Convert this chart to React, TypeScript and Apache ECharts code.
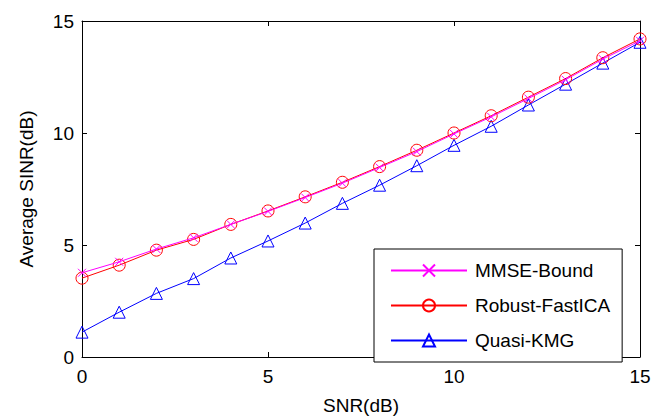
import React, { useEffect, useRef } from "react";
import * as echarts from "echarts";

const snr = [0, 1, 2, 3, 4, 5, 6, 7, 8, 9, 10, 11, 12, 13, 14, 15];
const mmseBound = [3.76, 4.25, 4.82, 5.32, 5.92, 6.5, 7.12, 7.76, 8.46, 9.17, 9.96, 10.72, 11.54, 12.38, 13.3, 14.12];
const robustFastICA = [3.52, 4.1, 4.77, 5.25, 5.92, 6.52, 7.15, 7.8, 8.5, 9.23, 10.0, 10.77, 11.6, 12.43, 13.36, 14.2];
const quasiKMG = [1.11, 2.0, 2.84, 3.5, 4.42, 5.18, 5.98, 6.86, 7.67, 8.54, 9.45, 10.3, 11.25, 12.18, 13.12, 14.05];
const xTicks = [0, 5, 10, 15];
const yTicks = [0, 5, 10, 15];

const FONT = "Liberation Sans, Arial, Helvetica, sans-serif";

export default function App() {
  const ref = useRef<HTMLDivElement>(null);
  useEffect(() => {
    if (!ref.current) return;
    const chart = echarts.init(ref.current, undefined, { renderer: "svg" });
    const pair = (ys: number[]) => snr.map((x, i) => [x, ys[i]]);
    const axisCommon = {
      type: "value",
      min: 0,
      max: 15,
      interval: 5,
      splitLine: { show: false },
      axisLine: { show: true, onZero: false, lineStyle: { color: "#000", width: 1 } },
      axisTick: { show: true, inside: true, length: 5, lineStyle: { color: "#000" } },
    };
    chart.setOption({
      animation: false,
      backgroundColor: "#fff",
      textStyle: { fontFamily: FONT },
      grid: { left: 82, right: 24, top: 21, bottom: 57 },
      xAxis: [
        {
          ...axisCommon,
          position: "bottom",
          name: "SNR(dB)",
          nameLocation: "middle",
          nameGap: 39,
          nameTextStyle: { color: "#000", fontSize: 19, fontFamily: FONT },
          axisLabel: {
            color: "#000",
            fontSize: 19,
            fontFamily: FONT,
            margin: 10,
            formatter: (v: number) => (xTicks.includes(v) ? String(v) : ""),
          },
        },
        {
          ...axisCommon,
          position: "top",
          axisLabel: { show: false },
        },
      ],
      yAxis: [
        {
          ...axisCommon,
          position: "left",
          name: "Average SINR(dB)",
          nameLocation: "middle",
          nameGap: 46,
          nameTextStyle: { color: "#000", fontSize: 19, fontFamily: FONT },
          axisLabel: {
            color: "#000",
            fontSize: 19,
            fontFamily: FONT,
            margin: 8,
            formatter: (v: number) => (yTicks.includes(v) ? String(v) : ""),
          },
        },
        {
          ...axisCommon,
          position: "right",
          axisLabel: { show: false },
        },
      ],
      legend: {
        show: true,
        orient: "vertical",
        left: 374,
        top: 249,
        backgroundColor: "#fff",
        borderColor: "#000",
        borderWidth: 1,
        borderRadius: 0,
        padding: [12, 12, 12, 16],
        itemWidth: 76,
        itemHeight: 15,
        itemGap: 16,
        textStyle: { color: "#000", fontSize: 19, fontFamily: FONT, padding: [0, 0, 0, 3] },
        data: ["MMSE-Bound", "Robust-FastICA", "Quasi-KMG"],
      },
      series: [
        {
          name: "MMSE-Bound",
          type: "line",
          data: pair(mmseBound),
          symbol: "path://M0,0L10,10M10,0L0,10",
          symbolSize: 8,
          lineStyle: { color: "#ff00ff", width: 1 },
          itemStyle: { color: "none", borderColor: "#ff00ff", borderWidth: 1 },
          z: 3,
        },
        {
          name: "Robust-FastICA",
          type: "line",
          data: pair(robustFastICA),
          symbol: "circle",
          symbolSize: 12,
          lineStyle: { color: "#ff0000", width: 1 },
          itemStyle: { color: "none", borderColor: "#ff0000", borderWidth: 1 },
          z: 2,
        },
        {
          name: "Quasi-KMG",
          type: "line",
          data: pair(quasiKMG),
          symbol: "triangle",
          symbolSize: 12,
          lineStyle: { color: "#0000ff", width: 1 },
          itemStyle: { color: "none", borderColor: "#0000ff", borderWidth: 1 },
          z: 1,
        },
      ],
    });
    return () => chart.dispose();
  }, []);
  return <div ref={ref} style={{ width: 664, height: 420, position: "fixed", left: 0, top: 0 }} />;
}
